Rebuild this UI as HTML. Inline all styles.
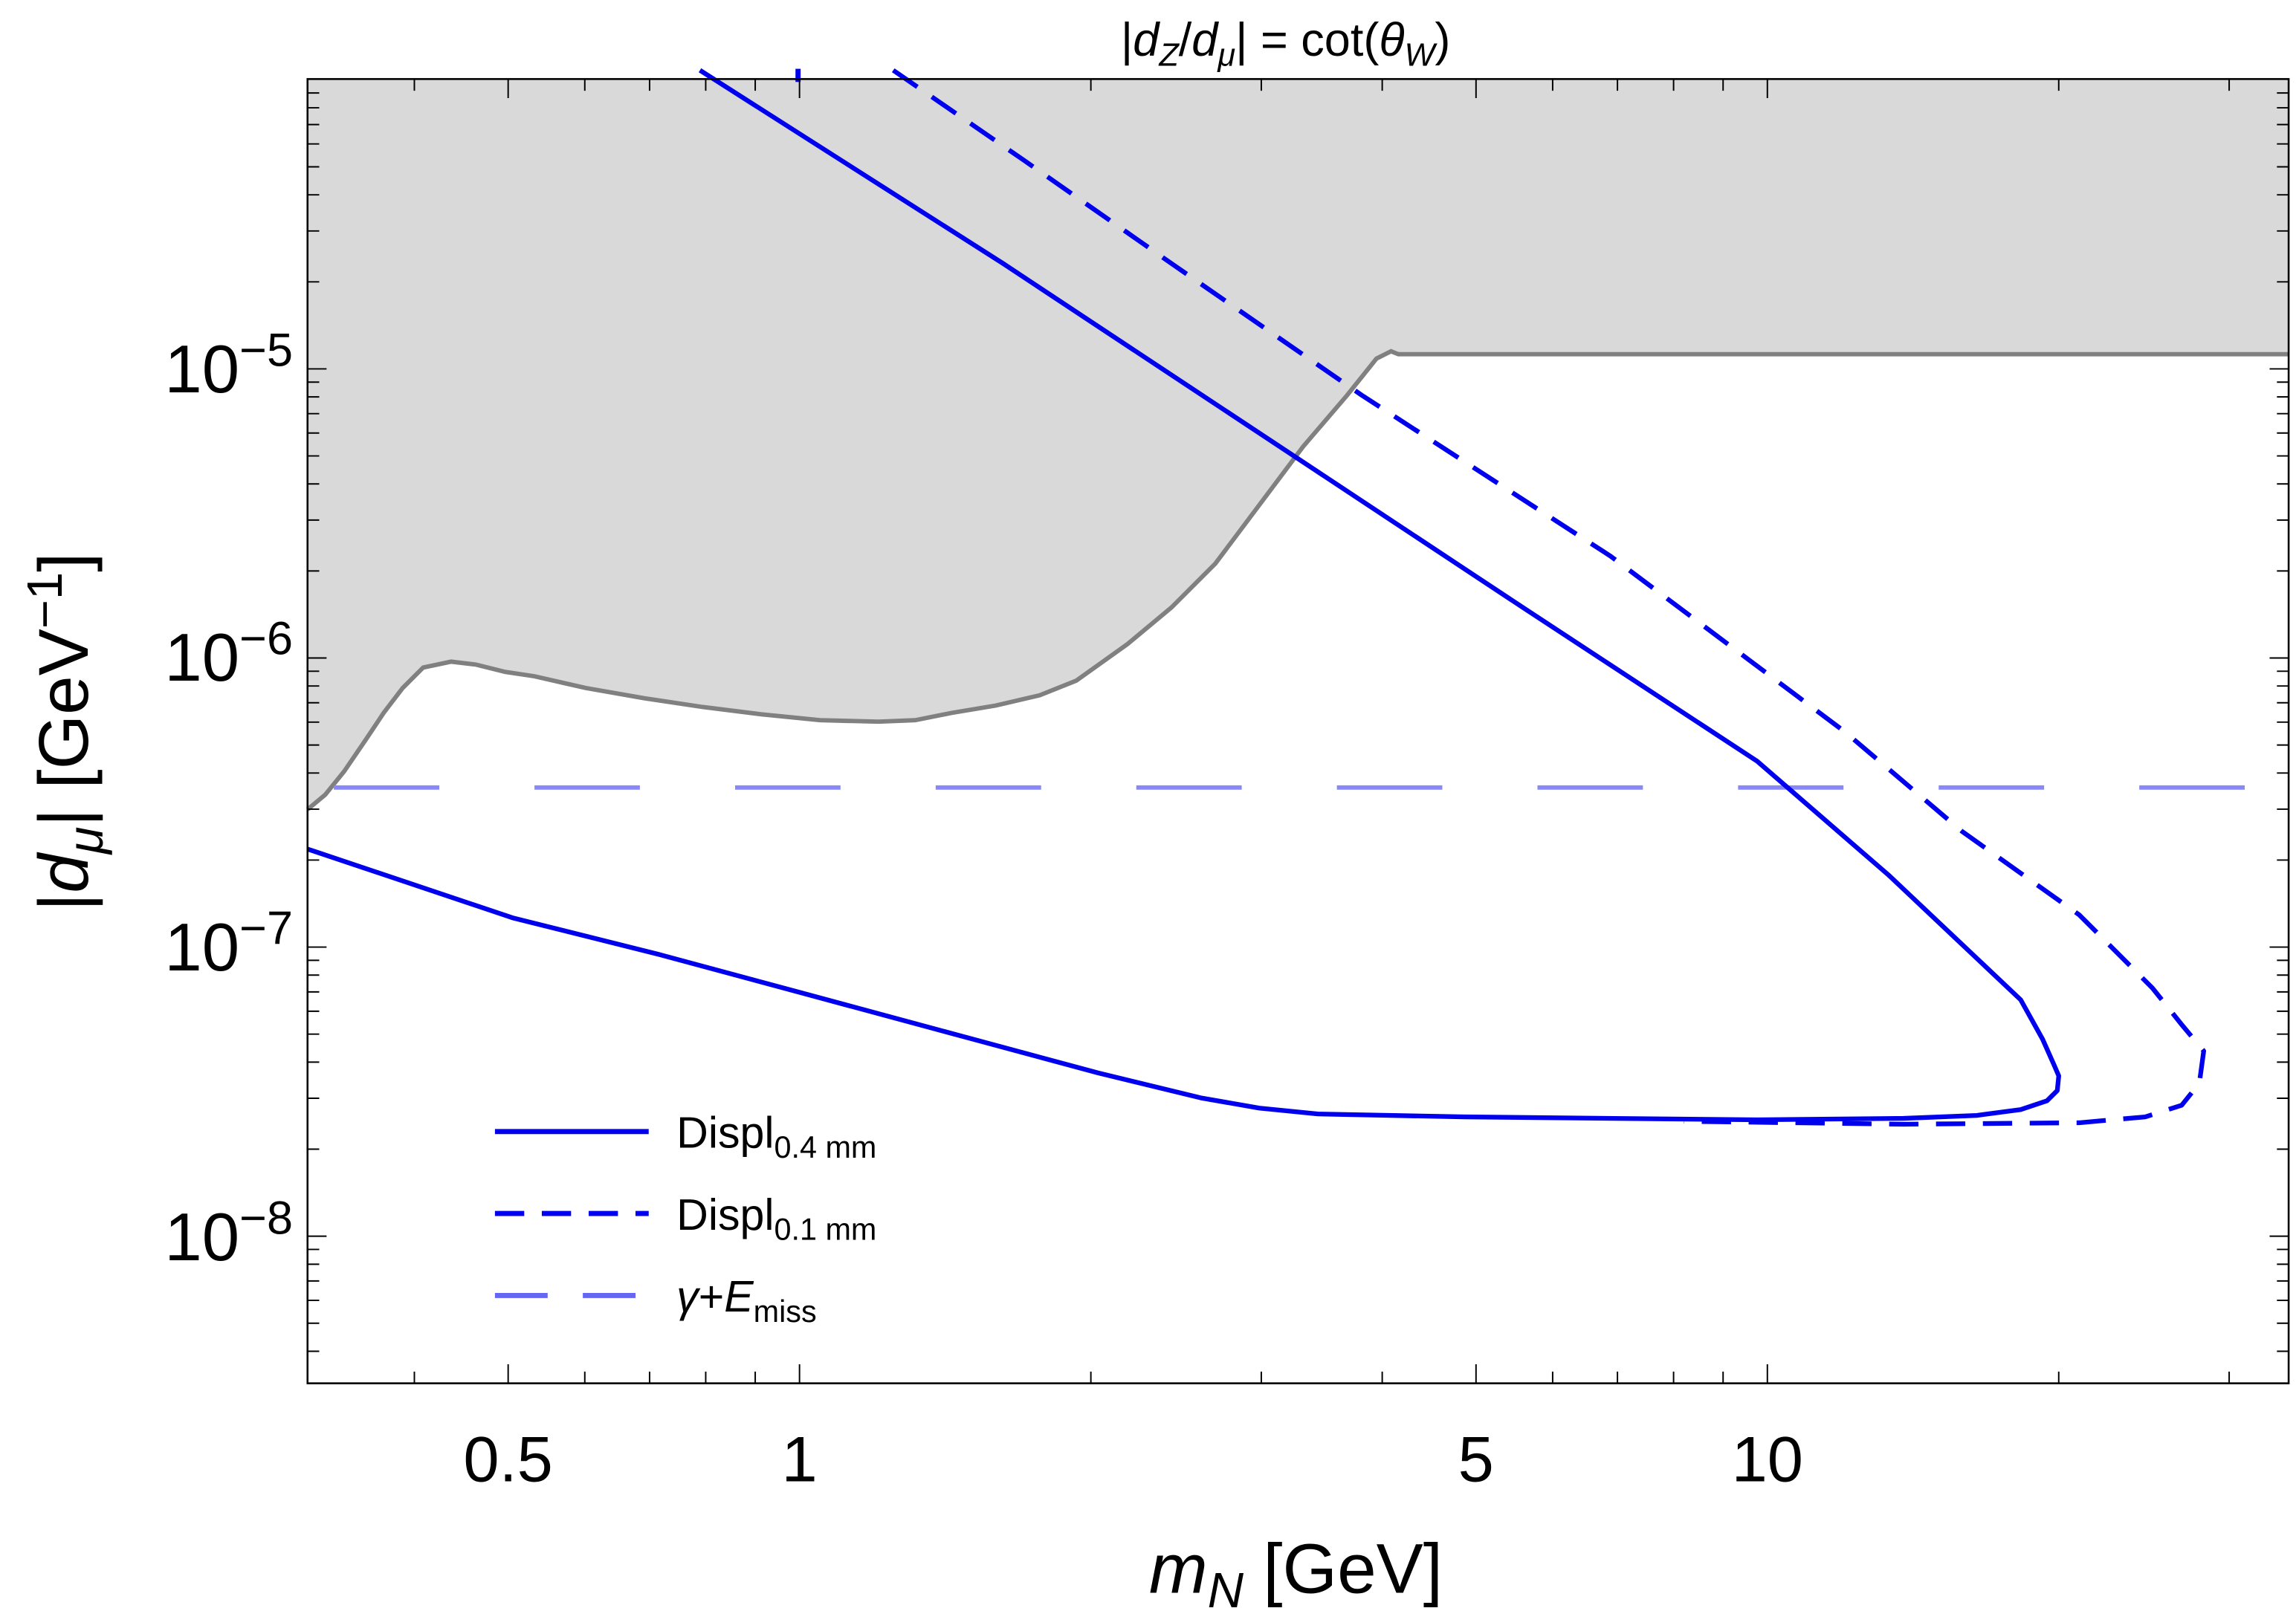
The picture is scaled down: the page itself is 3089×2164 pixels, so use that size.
<!DOCTYPE html>
<html><head><meta charset="utf-8"><style>
html,body{margin:0;padding:0;background:#fff;}
svg{display:block;font-family:"Liberation Sans",sans-serif;}
</style></head><body>
<svg id="s" width="3089" height="2164" viewBox="0 0 1568 1098.5" xmlns="http://www.w3.org/2000/svg">
<path d="M210,553 L222,543 235,527 250,505 262,487 275,470 289,456 308,452 325,454 345,459 365,462 400,470 440,477 480,483 520,488 560,492 600,493 625,492 650,487 680,482 710,475 735,465 770,440 800,415 830,385 860,345 890,305 920,270 940,245 950,240 955,242 1563,242 L1563,54 L210,54 Z" fill="#d9d9d9"/>
<polyline points="210,553 222,543 235,527 250,505 262,487 275,470 289,456 308,452 325,454 345,459 365,462 400,470 440,477 480,483 520,488 560,492 600,493 625,492 650,487 680,482 710,475 735,465 770,440 800,415 830,385 860,345 890,305 920,270 940,245 950,240 955,242 1563,242" fill="none" stroke="#808080" stroke-width="3"/>
<line x1="228" y1="538" x2="1563" y2="538" stroke="#8888f8" stroke-width="3" stroke-dasharray="72,65"/>
<polyline points="478,48 685,180 1040,415 1200,520 1290,598 1380,683 1395,710 1403,728 1406,735 1405,745 1398,752 1380,758 1350,762 1300,764 1200,765 1000,763 900,761 860,757 820,750 750,733 650,706 550,679 450,652 350,627 210,580" fill="none" stroke="#0000ee" stroke-width="3.2" stroke-linejoin="round"/>
<polyline points="610,48 700,110 800,180 930,270 1100,380 1260,500 1340,568 1420,625 1470,675 1490,700 1505,718 1502,740 1490,755 1465,763 1420,767 1300,768 1150,766" fill="none" stroke="#0000ee" stroke-width="3.2" stroke-dasharray="20,12" stroke-linejoin="round"/>
<line x1="545" y1="47" x2="545" y2="56" stroke="#0000ee" stroke-width="3.5"/>
<rect x="210" y="54" width="1353" height="891" fill="none" stroke="#000" stroke-width="1.3"/>
<g id="ticks" stroke="#000" stroke-width="1"></g>
<g font-size="46" fill="#000">
<text x="200" y="268" text-anchor="end">10<tspan font-size="32" dy="-18">−5</tspan></text>
<text x="200" y="465" text-anchor="end">10<tspan font-size="32" dy="-18">−6</tspan></text>
<text x="200" y="663" text-anchor="end">10<tspan font-size="32" dy="-18">−7</tspan></text>
<text x="200" y="861" text-anchor="end">10<tspan font-size="32" dy="-18">−8</tspan></text>
</g>
<g font-size="44" text-anchor="middle">
<text x="347" y="1012">0.5</text><text x="546" y="1012">1</text><text x="1008" y="1012">5</text><text x="1207" y="1012">10</text>
</g>
<text x="885" y="1088" font-size="48" text-anchor="middle"><tspan font-style="italic">m</tspan><tspan font-style="italic" font-size="34" dy="10">N</tspan><tspan dy="-10"> [GeV]</tspan></text>
<text transform="translate(60,500) rotate(-90)" font-size="48" text-anchor="middle">|<tspan font-style="italic">d</tspan><tspan font-style="italic" font-size="34" dy="10">μ</tspan><tspan dy="-10">| [GeV</tspan><tspan font-size="34" dy="-18">−1</tspan><tspan dy="18">]</tspan></text>
<text x="878" y="38" font-size="32" text-anchor="middle">|<tspan font-style="italic">d</tspan><tspan font-style="italic" font-size="22" dy="7">Z</tspan><tspan dy="-7">/</tspan><tspan font-style="italic">d</tspan><tspan font-style="italic" font-size="22" dy="7">μ</tspan><tspan dy="-7">| = cot(</tspan><tspan font-style="italic">θ</tspan><tspan font-style="italic" font-size="22" dy="7">W</tspan><tspan dy="-7">)</tspan></text>
<line x1="338" y1="773" x2="443" y2="773" stroke="#0000ee" stroke-width="3.5"/>
<line x1="338" y1="829" x2="443" y2="829" stroke="#0000ee" stroke-width="3.5" stroke-dasharray="20,12"/>
<line x1="338" y1="885" x2="443" y2="885" stroke="#6666f4" stroke-width="3.5" stroke-dasharray="36,24"/>
<g font-size="30">
<text x="462" y="784">Displ<tspan font-size="21" dy="7">0.4 mm</tspan></text>
<text x="462" y="840">Displ<tspan font-size="21" dy="7">0.1 mm</tspan></text>
<text x="462" y="896"><tspan font-style="italic">γ</tspan>+<tspan font-style="italic">E</tspan><tspan font-size="21" dy="7">miss</tspan></text>
</g>
</svg>
<script>
var g=document.getElementById('ticks'),h='';
var L=210,R=1563,T=54,B=945;
function xp(v){return 546+Math.log10(v)*661;}
function yp(e){return 252-(e+5)*197.5;}
var xs=[0.4,0.5,0.6,0.7,0.8,0.9,1,2,3,4,5,6,7,8,9,10,20,30];
xs.forEach(function(v){var x=xp(v);var m=(v==0.5||v==1||v==5||v==10);var l=m?13:8;
h+='<line x1="'+x+'" y1="'+B+'" x2="'+x+'" y2="'+(B-l)+'"/><line x1="'+x+'" y1="'+T+'" x2="'+x+'" y2="'+(T+l)+'"/>';});
for(var d=-9;d<=-5;d++){for(var k=1;k<=9;k++){var y=yp(d+Math.log10(k));if(y<T||y>B)continue;var l=k==1?13:8;
h+='<line x1="'+L+'" y1="'+y+'" x2="'+(L+l)+'" y2="'+y+'"/><line x1="'+R+'" y1="'+y+'" x2="'+(R-l)+'" y2="'+y+'"/>';}}
g.innerHTML=h;
</script>
</body></html>
